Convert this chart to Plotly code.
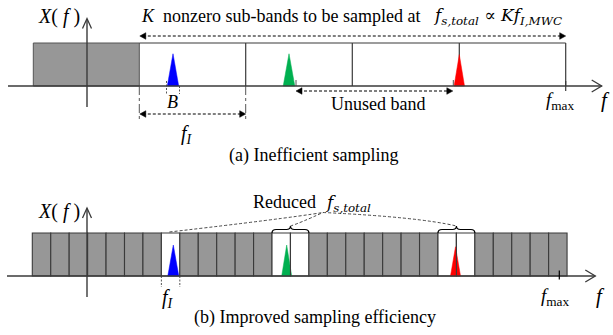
import plotly.graph_objects as go

# ---------------- data (frequency offsets from f = 0, amplitudes) ----------------
# panel (a): inefficient sampling
lowband_a = [-53.7, 52.3]                 # occupied low band (grey)
band_edges_a = [52.3, 158.7, 265.3, 372.3, 478.7]   # K sub-band edges (width f_I)
peaks_a = [86.0, 202.0, 372.3]            # signal peak centres
peak_half_a = [5.7, 5.8, 5.2]
peak_amp_a = [0.75, 0.75, 0.73]
fmax_a = 478.7
# panel (b): improved sampling
cell_start_b = -54.7
cell_width_b = 18.44
n_cells_b = 29
open_cells_b = [7, 13, 14, 22, 23]
peaks_b = [86.3, 199.7, 368.5]
peak_half_b = [5.5, 5.0, 5.0]
peak_amp_b = [0.72, 0.72, 0.68]
fmax_b = 472.3
colors = ["#0000ff", "#00b050", "#ff0000"]
labels_a = ["nonzero sub-bands to be sampled at", "Unused band", "(a) Inefficient sampling"]
labels_b = ["Reduced", "(b) Improved sampling efficiency"]

BASE_A, BASE_B, AMP = 86.0, 276.0, 43.0
GREY = "#979797"
DARK = "#3a3a3a"
SERIF = "Liberation Serif"
MATH = "DejaVu Serif"

shapes = []
annots = []


def line(x0, y0, x1, y1, color=DARK, width=1.3, dash="solid"):
    shapes.append(dict(type="line", x0=x0, y0=y0, x1=x1, y1=y1, xref="x", yref="y",
                       line=dict(color=color, width=width, dash=dash)))


def path(d, fill=None, color=DARK, width=1.0, dash="solid"):
    s = dict(type="path", path=d, xref="x", yref="y",
             line=dict(color=color, width=width, dash=dash))
    if fill:
        s["fillcolor"] = fill
    shapes.append(s)


def rect(x0, y0, x1, y1, fill, color=DARK, width=1.0):
    shapes.append(dict(type="rect", x0=x0, y0=y0, x1=x1, y1=y1, xref="x", yref="y",
                       fillcolor=fill, line=dict(color=color, width=width), layer="below"))


def tri(xc, half, base, h, color):
    path(f"M {xc-half},{base} L {xc},{base-h} L {xc+half},{base} Z", fill=color, color=color, width=0.5)


def head(x, y, direction, size=6, half=3.3):
    if direction == "right":
        d = f"M {x},{y} L {x-size},{y-half} L {x-size},{y+half} Z"
    else:
        d = f"M {x},{y} L {x+size},{y-half} L {x+size},{y+half} Z"
    path(d, fill="black", color="black", width=0.5)


def darrow(x0, x1, y):
    line(x0 + 3, y, x1 - 3, y, color="black", width=1, dash="3px,2px")
    head(x0, y, "left")
    head(x1, y, "right")


def chevron_h(xtip, y):
    path(f"M {xtip-10},{y-6} L {xtip},{y} L {xtip-10},{y+6}", color=DARK, width=1.3)


def chevron_v(x, ytip):
    path(f"M {x-4.5},{ytip+10} L {x},{ytip} L {x+4.5},{ytip+10}", color=DARK, width=1.3)


def text(x, y, t, size=18, xanchor="center", font=SERIF, color="black"):
    annots.append(dict(x=x, y=y, xref="x", yref="y", text=t, showarrow=False,
                       xanchor=xanchor, yanchor="middle",
                       font=dict(family=font, size=size, color=color)))


def brace(x0, x1, ybase):
    xm = (x0 + x1) / 2
    yt = ybase - 3.5
    tip = ybase - 7
    d = (f"M {x0},{ybase} Q {x0},{yt} {x0+4},{yt} L {xm-4},{yt} Q {xm},{yt} {xm},{tip} "
         f"Q {xm},{yt} {xm+4},{yt} L {x1-4},{yt} Q {x1},{yt} {x1},{ybase}")
    path(d, color="black", width=1.2)


# ---------------- panel (a) ----------------
top_a = BASE_A - AMP
rect(lowband_a[0], top_a, lowband_a[1], BASE_A, GREY, color="#555555")
line(band_edges_a[0], top_a, band_edges_a[-1], top_a, width=1.2)
for e in band_edges_a[1:]:
    line(e, top_a, e, BASE_A, width=1.2)
for xc, hw, a, c in zip(peaks_a, peak_half_a, peak_amp_a, colors):
    tri(xc, hw, BASE_A, a * AMP, c)
line(-79, BASE_A, fmax_a + 36, BASE_A, width=1.4)
chevron_h(fmax_a + 36, BASE_A)
line(0, BASE_A + 21, 0, 19, width=1.4)
chevron_v(0, 18.5)
line(fmax_a, BASE_A - 5, fmax_a, BASE_A + 5, width=1.2)
# B markers
line(peaks_a[0] - 6.5, BASE_A - 5, peaks_a[0] - 6.5, BASE_A + 8, color="#444", width=0.9, dash="2px,1.5px")
line(peaks_a[0] + 6.5, BASE_A, peaks_a[0] + 6.5, BASE_A + 8, color="#444", width=0.9, dash="2px,1.5px")
line(peaks_a[1] + 7, BASE_A - 6, peaks_a[1] + 7, BASE_A, color="#444", width=0.9)
line(peaks_a[2] - 6, BASE_A - 6, peaks_a[2] - 6, BASE_A, color="#444", width=0.9)
# f_I dimension
for e in band_edges_a[:2]:
    line(e, BASE_A, e, BASE_A + 35, color="#444", width=0.9, dash="dashdot")
darrow(band_edges_a[0] + 0.5, band_edges_a[1], 114)
darrow(band_edges_a[0] + 0.5, band_edges_a[-1], 36)
darrow(peaks_a[1] + 7, peaks_a[2] - 6.5, 91)

text(-28, 16, "<i>X</i>( <i>f</i> )", size=20)
text(52, 16, "<i>K</i>  " + labels_a[0], size=18, xanchor="left")
text(344, 16, "<i>f</i><sub><i>s,total</i></sub> \u221d <i>Kf</i><sub><i>I,MWC</i></sub>",
     size=17, xanchor="left", font=MATH)
text(peaks_a[0] - 1, 102, "<i>B</i>", size=18)
text(100, 134, "<i>f</i><sub><i>I</i></sub>", size=20)
text(291, 104, labels_a[1], size=18)
text(fmax_a - 5, 101, "<i>f</i><sub>max</sub>", size=19)
text(fmax_a + 40, 100, "<i>f</i>", size=21)
text(227, 155, labels_a[2], size=18)

# ---------------- panel (b) ----------------
top_b = BASE_B - AMP
for i in range(n_cells_b):
    x0 = cell_start_b + i * cell_width_b
    fill = "white" if i in open_cells_b else GREY
    rect(x0, top_b, x0 + cell_width_b, BASE_B, fill, color=DARK, width=1.1)
for xc, hw, a, c in zip(peaks_b, peak_half_b, peak_amp_b, colors):
    tri(xc, hw, BASE_B, a * AMP, c)
for i in open_cells_b:
    if i - 1 in open_cells_b:
        x = cell_start_b + i * cell_width_b
        line(x, top_b, x, BASE_B, width=1.1)
line(-80, BASE_B, fmax_b + 36, BASE_B, width=1.4)
chevron_h(fmax_b + 36, BASE_B)
line(0, BASE_B + 21, 0, 208.5, width=1.4)
chevron_v(0, 208)
line(fmax_b, BASE_B - 5.5, fmax_b, BASE_B + 3.5, color="black", width=1.2)
c7 = cell_start_b + open_cells_b[0] * cell_width_b
line(c7, BASE_B, c7, BASE_B + 11, color="#444", width=0.9, dash="2px,1.5px")
line(c7 + cell_width_b, BASE_B, c7 + cell_width_b, BASE_B + 11, color="#444", width=0.9, dash="2px,1.5px")
g0 = cell_start_b + open_cells_b[1] * cell_width_b
r0 = cell_start_b + open_cells_b[3] * cell_width_b
brace(g0, g0 + 2 * cell_width_b, top_b)
brace(r0, r0 + 2 * cell_width_b, top_b)
path(f"M {c7+8},{top_b-1} Q {g0+10},{top_b-14} 236,212.5", color="#333", width=0.9, dash="3px,2px")
path(f"M {g0+cell_width_b},{top_b-7} Q {g0+28},{top_b-10} 236,212.5", color="#333", width=0.9, dash="3px,2px")
path(f"M 236,212.5 Q {r0-20},{top_b-16} {r0+cell_width_b},{top_b-7}", color="#333", width=0.9, dash="3px,2px")

text(-28, 211, "<i>X</i>( <i>f</i> )", size=20)
text(231, 202, labels_b[0], size=18, xanchor="right")
text(236, 203, "<i>f</i><sub><i>s,total</i></sub>", size=17, xanchor="left", font=MATH)
text(c7 + 7, 298, "<i>f</i><sub><i>I</i></sub>", size=20)
text(fmax_b - 4, 297, "<i>f</i><sub>max</sub>", size=19)
text(fmax_b + 41, 296, "<i>f</i>", size=21)
text(228, 317, labels_b[1], size=18)

fig = go.Figure()
fig.update_layout(
    width=613, height=335, margin=dict(l=0, r=0, t=0, b=0),
    paper_bgcolor="white", plot_bgcolor="white",
    xaxis=dict(range=[-87, 526], visible=False, fixedrange=True),
    yaxis=dict(range=[335, 0], visible=False, fixedrange=True),
    shapes=shapes, annotations=annots, showlegend=False,
)
fig.write_html("out.html")
